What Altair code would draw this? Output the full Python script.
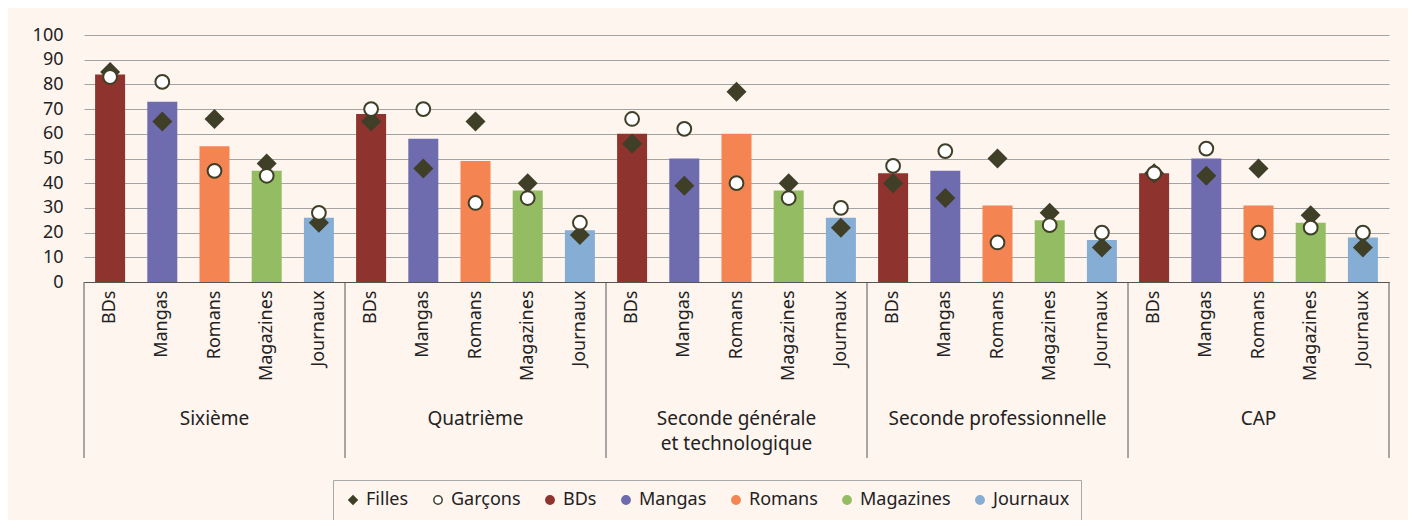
import altair as alt
import pandas as pd

groups = ["Sixième", "Quatrième", "Seconde générale\net technologique",
          "Seconde professionnelle", "CAP"]
categories = ["BDs", "Mangas", "Romans", "Magazines", "Journaux"]

ensemble = [
    [84, 73, 55, 45, 26],
    [68, 58, 49, 37, 21],
    [60, 50, 60, 37, 26],
    [44, 45, 31, 25, 17],
    [44, 50, 31, 24, 18],
]
filles = [
    [85, 65, 66, 48, 24],
    [65, 46, 65, 40, 19],
    [56, 39, 77, 40, 22],
    [40, 34, 50, 28, 14],
    [44, 43, 46, 27, 14],
]
garcons = [
    [83, 81, 45, 43, 28],
    [70, 70, 32, 34, 24],
    [66, 62, 40, 34, 30],
    [47, 53, 16, 23, 20],
    [44, 54, 20, 22, 20],
]
y_ticks = [0, 10, 20, 30, 40, 50, 60, 70, 80, 90, 100]

series = ["Filles", "Garçons"] + categories
fill_colors = ["#3f3f28", "#ffffff", "#8e332d", "#6e6baf", "#f48451", "#93bc63", "#86add3"]
stroke_colors = ["#3f3f28", "#3f3f28", "#8e332d", "#6e6baf", "#f48451", "#93bc63", "#86add3"]
shapes = ["diamond", "circle", "circle", "circle", "circle", "circle", "circle"]

FONT = "Noto Sans"
W, H = 1305, 247

rows = []
for gi, g in enumerate(groups):
    for ci, c in enumerate(categories):
        key = f"{g}|{c}"
        rows.append({"key": key, "groupe": g, "cat": c, "serie": c,
                     "ens": ensemble[gi][ci], "filles": filles[gi][ci],
                     "garcons": garcons[gi][ci]})
df = pd.DataFrame(rows)
order = list(df["key"])
df_f = df.assign(serie="Filles")
df_g = df.assign(serie="Garçons")

xscale = alt.Scale(domain=order, paddingInner=0, paddingOuter=0)
yscale = alt.Scale(domain=[0, 100])
fill_enc = alt.Fill("serie:N", scale=alt.Scale(domain=series, range=fill_colors),
                    legend=alt.Legend(title=None, orient="none", legendX=249, legendY=445,
                                      direction="horizontal", columns=7,
                                      strokeColor="#a8a8a8", padding=11,
                                      labelFontSize=18, labelFont=FONT, labelColor="#222",
                                      symbolSize=70, symbolStrokeWidth=1.5,
                                      columnPadding=20, labelOffset=4))
stroke_enc = alt.Stroke("serie:N", scale=alt.Scale(domain=series, range=stroke_colors))
shape_enc = alt.Shape("serie:N", scale=alt.Scale(domain=series, range=shapes))

xaxis = alt.Axis(title=None, labelAngle=-90, labelExpr="split(datum.label, '|')[1]",
                 ticks=False, domainColor="#555555", labelFontSize=18, labelFont=FONT,
                 labelColor="#222", labelPadding=8, grid=False)
yaxis = alt.Axis(title=None, values=y_ticks, tickCount=11, ticks=False,
                 domain=False, gridColor="#a3a3a3", labelFontSize=18,
                 labelOverlap=False, labelFont=FONT, labelColor="#222",
                 labelPadding=21)

bars = alt.Chart(df).mark_bar(size=30).encode(
    x=alt.X("key:N", scale=xscale, sort=order, axis=xaxis),
    y=alt.Y("ens:Q", scale=yscale, axis=yaxis),
    fill=fill_enc,
)

pts_f = alt.Chart(df_f).mark_point(filled=True, size=400, opacity=1, strokeWidth=0).encode(
    x=alt.X("key:N", scale=xscale, sort=order, axis=xaxis),
    y=alt.Y("filles:Q", scale=yscale, axis=yaxis),
    fill=fill_enc, shape=shape_enc, stroke=stroke_enc,
)
pts_g = alt.Chart(df_g).mark_point(filled=True, size=190, opacity=1, strokeWidth=2).encode(
    x=alt.X("key:N", scale=xscale, sort=order, axis=xaxis),
    y=alt.Y("garcons:Q", scale=yscale, axis=yaxis),
    fill=fill_enc, shape=shape_enc, stroke=stroke_enc,
)

firsts = df[df["cat"] == categories[0]]
lasts = df[df["key"] == order[-1]]
mids = df[df["cat"] == categories[2]]

sep1 = alt.Chart(firsts).mark_rule(color="#555555", strokeWidth=1).encode(
    x=alt.X("key:N", scale=xscale, sort=order, bandPosition=0, axis=xaxis),
    y=alt.value(H), y2=alt.value(H + 176))
sep2 = alt.Chart(lasts).mark_rule(color="#555555", strokeWidth=1).encode(
    x=alt.X("key:N", scale=xscale, sort=order, bandPosition=1, axis=xaxis),
    y=alt.value(H), y2=alt.value(H + 176))

glabels = alt.Chart(mids).mark_text(font=FONT, fontSize=19, color="#222", baseline="top",
                                    lineBreak="\n", lineHeight=25).encode(
    x=alt.X("key:N", scale=xscale, sort=order, axis=xaxis),
    y=alt.value(H + 128),
    text="groupe:N")

chart = alt.layer(bars, pts_f, pts_g, sep1, sep2, glabels).properties(
    width=W, height=H,
    autosize=alt.AutoSizeParams(type="none"),
    padding={"left": 76, "top": 27, "right": 19, "bottom": 238},
    background="#fef5ef",
).configure_view(strokeWidth=0)

chart.save("out.html", embed_options={"renderer": "svg", "actions": False})
